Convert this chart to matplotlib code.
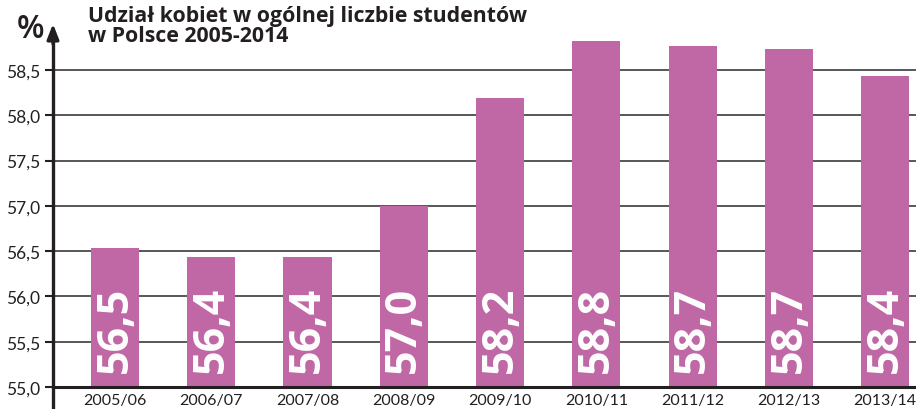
"""
Share of women among students in Poland 2005-2014 (bar chart)
"""
import matplotlib
matplotlib.use('Agg')
import matplotlib.pyplot as plt
import numpy as np

# data
years = ['2005/06', '2006/07', '2007/08', '2008/09', '2009/10',
         '2010/11', '2011/12', '2012/13', '2013/14']
values = [56.53, 56.44, 56.44, 57.0, 58.19, 58.82, 58.76, 58.73, 58.43]
labels = ['56,5', '56,4', '56,4', '57,0', '58,2', '58,8', '58,7', '58,7', '58,4']
yticks = [55.0, 55.5, 56.0, 56.5, 57.0, 57.5, 58.0, 58.5]
ytick_labels = ['55,0', '55,5', '56,0', '56,5', '57,0', '57,5', '58,0', '58,5']

bar_color = '#C068A6'
text_color = '#231F20'
plt.rcParams['font.family'] = ['Lato', 'DejaVu Sans']
bold_font = ['Open Sans', 'DejaVu Sans']

fig = plt.figure(figsize=(9.16, 4.10), dpi=100)
ax = fig.add_axes([53 / 916, 22 / 410, (916 - 53) / 916, (388 - 22) / 410])

x = np.arange(len(years))
ax.bar(x, np.array(values) - 55.0, bottom=55.0, width=0.5, color=bar_color, zorder=3)

for xi, lab in zip(x, labels):
    ax.text(xi, 55.17, lab, rotation=90, ha='center', va='bottom',
            color='white', fontsize=31, fontweight='bold', family=bold_font,
            zorder=4)

ax.set_xlim(-0.644, 8.32)
ax.set_ylim(55.0, 59.04)

# horizontal grid
for yv in yticks[1:]:
    ax.axhline(yv, color='#4a4a4a', linewidth=1.3, zorder=1)

for s in ['top', 'right', 'left']:
    ax.spines[s].set_visible(False)
ax.spines['bottom'].set_linewidth(2.2)
ax.spines['bottom'].set_color(text_color)
ax.spines['bottom'].set_zorder(5)

# y axis line with arrow, extended below the x axis
ax.plot([0, 0], [-0.06, 0.97], transform=ax.transAxes, color=text_color,
        linewidth=2.4, clip_on=False, zorder=6)
ax.annotate('', xy=(0, 1.0), xytext=(0, 0.93), xycoords='axes fraction',
            arrowprops=dict(arrowstyle='-|>,head_length=0.9,head_width=0.35',
                            color=text_color, lw=2.4), annotation_clip=False)

ax.set_yticks(yticks)
ax.set_yticklabels(ytick_labels)
ax.tick_params(axis='y', length=6, width=1.5, color=text_color, labelsize=12.5,
               labelcolor=text_color, pad=3)
ax.set_xticks(x)
ax.set_xticklabels(years)
ax.tick_params(axis='x', length=0, labelsize=11.5, labelcolor=text_color, pad=4)

fig.text(17 / 916, 1 - 30 / 410, '%', fontsize=23, color=text_color,
         ha='left', va='center', fontweight='semibold', family=bold_font)
fig.text(88 / 916, 1 - 6 / 410, 'Udział kobiet w ogólnej liczbie studentów\nw Polsce 2005-2014',
         fontsize=15.3, fontweight='bold', family=bold_font, color=text_color,
         ha='left', va='top', linespacing=0.95)

plt.savefig('out.png', dpi=100)
plt.close()
